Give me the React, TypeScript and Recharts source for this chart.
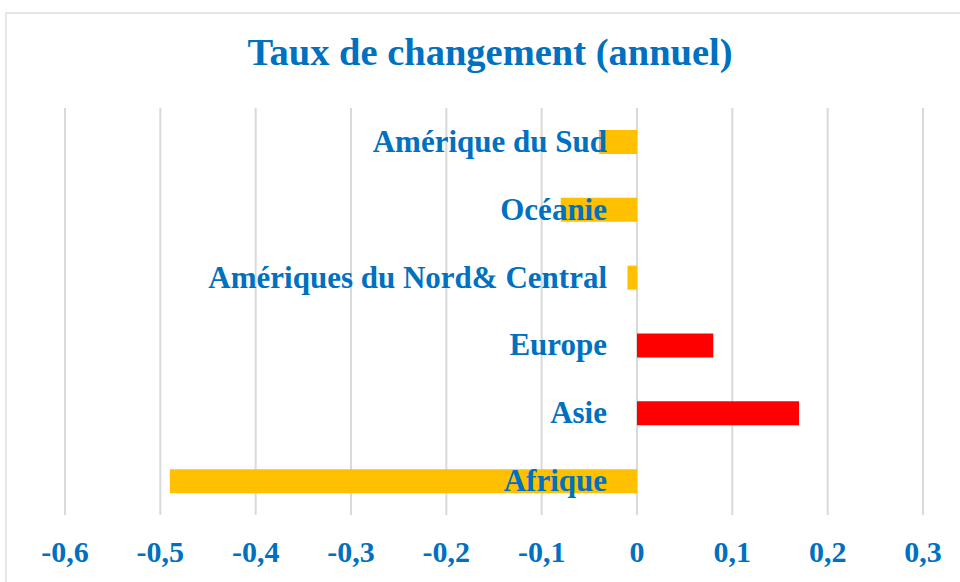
import { BarChart, Bar, XAxis, YAxis, CartesianGrid, Cell } from "recharts";

const regions = [
  "Amérique du Sud",
  "Océanie",
  "Amériques du Nord& Central",
  "Europe",
  "Asie",
  "Afrique",
];
const rates = [-0.04, -0.08, -0.01, 0.08, 0.17, -0.49];
const xTicks = [-0.6, -0.5, -0.4, -0.3, -0.2, -0.1, 0, 0.1, 0.2, 0.3];

const W = 960;
const H = 582;
const margin = { top: 108, right: 37, bottom: 0, left: 64 };
const domain: [number, number] = [-0.6, 0.3];
const blue = "#0070C0";
const font = "'Liberation Serif', 'Times New Roman', serif";

const data = regions.map((name, i) => ({ name, rate: rates[i] }));

// x position of the zero line, used to put the category names just left of it
const plotLeft = margin.left + 1;
const plotW = W - plotLeft - margin.right;
const zeroX = plotLeft + ((0 - domain[0]) / (domain[1] - domain[0])) * plotW;

const fmt = (v: number) => (v === 0 ? "0" : v.toFixed(1).replace(".", ","));

function RegionTick(props: any) {
  const { y, payload } = props;
  return (
    <text
      x={zeroX - 30}
      y={y}
      dy={10}
      textAnchor="end"
      fill={blue}
      fontSize={31}
      fontWeight="bold"
      fontFamily={font}
    >
      {payload.value}
    </text>
  );
}

export default function App() {
  return (
    <div style={{ position: "absolute", left: 0, top: 0, width: W, height: H, background: "#fff" }}>
      <div
        style={{
          position: "absolute",
          left: 5,
          top: 12,
          width: W - 5,
          height: H - 12,
          borderLeft: "2px solid #E6E6E6",
          borderTop: "2px solid #E6E6E6",
          boxSizing: "border-box",
        }}
      />
      <div
        style={{
          position: "absolute",
          left: 0,
          top: 32,
          width: 980,
          textAlign: "center",
          color: blue,
          fontFamily: font,
          fontWeight: "bold",
          fontSize: 38.5,
          lineHeight: "40px",
        }}
      >
        Taux de changement (annuel)
      </div>
      <div style={{ position: "absolute", left: 0, top: 0 }}>
        <BarChart width={W} height={H} data={data} layout="vertical" margin={margin}>
          <CartesianGrid horizontal={false} stroke="#D9D9D9" strokeWidth={2} />
          <Bar dataKey="rate" barSize={24} isAnimationActive={false}>
            {data.map((d, i) => (
              <Cell key={i} fill={d.rate > 0 ? "#FF0000" : "#FFC000"} />
            ))}
          </Bar>
          <XAxis
            type="number"
            domain={domain}
            ticks={xTicks}
            tickFormatter={fmt}
            axisLine={false}
            tickLine={false}
            height={67}
            tickMargin={20}
            interval={0}
            tick={{ fill: blue, fontSize: 30, fontWeight: "bold", fontFamily: font }}
          />
          <YAxis
            type="category"
            dataKey="name"
            width={1}
            axisLine={false}
            tickLine={false}
            tick={(p: any) => <RegionTick {...p} />}
            interval={0}
          />
        </BarChart>
      </div>
    </div>
  );
}
